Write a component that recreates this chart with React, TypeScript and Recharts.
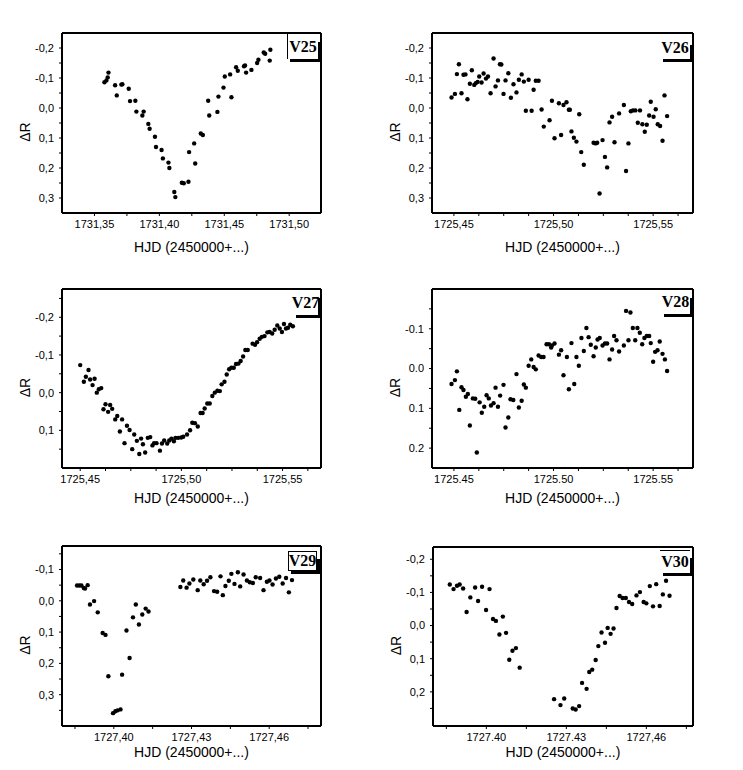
import { ScatterChart, Scatter, XAxis, YAxis } from "recharts";

const FONT = '"Liberation Sans", Arial, sans-serif';
const SERIF = '"Liberation Serif", "Times New Roman", serif';

type Pt = [number, number];

// HJD (1725/1727/1731 + fraction), delta R
const V25: Pt[] = [
  [1731.3577, -0.086], [1731.3592, -0.092], [1731.3602, -0.102], [1731.3608, -0.118],
  [1731.3659, -0.076], [1731.3672, -0.042], [1731.3707, -0.078], [1731.3715, -0.079],
  [1731.3764, -0.064], [1731.3774, -0.023], [1731.3815, -0.024], [1731.3823, 0.012],
  [1731.3869, 0.025], [1731.3879, 0.012], [1731.3915, 0.053], [1731.3925, 0.069],
  [1731.3966, 0.096], [1731.3974, 0.13], [1731.4017, 0.14], [1731.4027, 0.168],
  [1731.407, 0.182], [1731.4077, 0.2], [1731.4115, 0.28], [1731.4123, 0.297],
  [1731.4173, 0.249], [1731.4188, 0.251], [1731.4224, 0.246], [1731.4229, 0.147],
  [1731.4268, 0.118], [1731.4276, 0.185], [1731.4319, 0.085], [1731.4335, 0.09],
  [1731.4376, -0.024], [1731.4384, 0.025], [1731.4447, 0.013], [1731.4455, -0.038],
  [1731.4494, -0.068], [1731.4504, -0.105], [1731.4545, -0.112], [1731.4555, -0.036],
  [1731.4591, -0.136], [1731.4604, -0.124], [1731.4652, -0.139], [1731.466, -0.142],
  [1731.4668, -0.118], [1731.4709, -0.127], [1731.4753, -0.15], [1731.4763, -0.161],
  [1731.4804, -0.185], [1731.4815, -0.181], [1731.485, -0.158], [1731.4855, -0.194],
];

const V26: Pt[] = [
  [1725.4488, -0.035], [1725.4505, -0.047], [1725.4515, -0.113], [1725.4525, -0.146],
  [1725.4538, -0.049], [1725.4548, -0.111], [1725.4558, -0.112], [1725.4568, -0.029],
  [1725.458, -0.081], [1725.459, -0.126], [1725.4602, -0.077], [1725.461, -0.083],
  [1725.4619, -0.087], [1725.4627, -0.105], [1725.4639, -0.085], [1725.4649, -0.115],
  [1725.4661, -0.098], [1725.4671, -0.105], [1725.4684, -0.049], [1725.4699, -0.165],
  [1725.4709, -0.072], [1725.4721, -0.092], [1725.4731, -0.146], [1725.4738, -0.145],
  [1725.4749, -0.047], [1725.4759, -0.092], [1725.4773, -0.116], [1725.4786, -0.034],
  [1725.4799, -0.079], [1725.4814, -0.052], [1725.4826, -0.094], [1725.484, -0.112],
  [1725.4851, -0.088], [1725.4861, 0.009], [1725.4875, -0.094], [1725.489, 0.009],
  [1725.49, -0.061], [1725.4911, -0.091], [1725.4925, -0.091], [1725.494, 0.005],
  [1725.4951, 0.062], [1725.498, 0.041], [1725.4992, -0.024], [1725.5005, 0.101],
  [1725.5027, -0.016], [1725.5038, 0.09], [1725.505, -0.01], [1725.5065, -0.019],
  [1725.5077, 0.006], [1725.5082, 0.006], [1725.509, 0.078], [1725.5102, 0.099],
  [1725.5115, 0.112], [1725.5129, 0.021], [1725.5139, 0.147], [1725.5152, 0.189],
  [1725.5201, 0.116], [1725.5211, 0.118], [1725.5219, 0.116], [1725.5231, 0.285],
  [1725.5246, 0.107], [1725.5258, 0.163], [1725.5269, 0.198], [1725.5281, 0.048],
  [1725.5294, 0.029], [1725.5306, 0.114], [1725.5329, 0.018], [1725.5353, -0.01],
  [1725.5364, 0.21], [1725.5376, 0.118], [1725.5388, 0.011], [1725.5399, 0.008],
  [1725.5411, 0.008], [1725.5423, 0.049], [1725.5434, 0.008], [1725.5446, 0.054],
  [1725.5458, 0.079], [1725.5468, 0.056], [1725.548, 0.025], [1725.5488, -0.021],
  [1725.5502, 0.029], [1725.5513, 0.004], [1725.5523, 0.054], [1725.5535, 0.06],
  [1725.5547, 0.109], [1725.5557, -0.042], [1725.557, 0.027],
];

const V27: Pt[] = [
  [1725.45, -0.073], [1725.4518, -0.029], [1725.4528, -0.042], [1725.4541, -0.06],
  [1725.4549, -0.035], [1725.4561, -0.02], [1725.4571, -0.037], [1725.4582, 0.0],
  [1725.4592, -0.009], [1725.4604, -0.012], [1725.4615, 0.044], [1725.4625, 0.031],
  [1725.4638, 0.051], [1725.4648, 0.033], [1725.4658, 0.043], [1725.4673, 0.071],
  [1725.4683, 0.062], [1725.4696, 0.103], [1725.4707, 0.071], [1725.4719, 0.134],
  [1725.4731, 0.088], [1725.4744, 0.099], [1725.4757, 0.15], [1725.4767, 0.111],
  [1725.478, 0.128], [1725.4792, 0.163], [1725.4801, 0.122], [1725.481, 0.137],
  [1725.4821, 0.159], [1725.4834, 0.12], [1725.4846, 0.118], [1725.4857, 0.14],
  [1725.4865, 0.134], [1725.4877, 0.134], [1725.4894, 0.154], [1725.4904, 0.135],
  [1725.4915, 0.127], [1725.493, 0.135], [1725.494, 0.127], [1725.4951, 0.122],
  [1725.4963, 0.129], [1725.4971, 0.12], [1725.4984, 0.12], [1725.4999, 0.119],
  [1725.5009, 0.117], [1725.5028, 0.111], [1725.5043, 0.1], [1725.5054, 0.08],
  [1725.5067, 0.081], [1725.5081, 0.09], [1725.5095, 0.054], [1725.5105, 0.054],
  [1725.5115, 0.042], [1725.5128, 0.029], [1725.514, 0.029], [1725.5153, 0.009],
  [1725.5165, 0.0], [1725.5178, -0.005], [1725.519, -0.004], [1725.5199, -0.022],
  [1725.5213, -0.029], [1725.5224, -0.048], [1725.5236, -0.062], [1725.5247, -0.066],
  [1725.5259, -0.066], [1725.527, -0.076], [1725.5282, -0.077], [1725.5293, -0.084],
  [1725.5305, -0.096], [1725.5316, -0.113], [1725.5328, -0.113], [1725.5352, -0.13],
  [1725.5364, -0.127], [1725.5374, -0.134], [1725.5387, -0.143], [1725.5398, -0.148],
  [1725.5411, -0.15], [1725.5425, -0.16], [1725.5436, -0.161], [1725.5449, -0.157],
  [1725.5461, -0.167], [1725.5474, -0.178], [1725.5486, -0.17], [1725.5497, -0.161],
  [1725.5507, -0.182], [1725.5517, -0.17], [1725.5527, -0.172], [1725.5538, -0.18],
  [1725.5551, -0.176],
];

const V28: Pt[] = [
  [1725.4488, 0.039], [1725.4505, 0.029], [1725.4515, 0.007], [1725.4527, 0.104],
  [1725.4538, 0.047], [1725.4548, 0.054], [1725.456, 0.071], [1725.457, 0.064],
  [1725.458, 0.143], [1725.4595, 0.075], [1725.4607, 0.076], [1725.4615, 0.211],
  [1725.4629, 0.085], [1725.464, 0.111], [1725.4652, 0.096], [1725.4664, 0.067],
  [1725.4675, 0.075], [1725.4686, 0.093], [1725.4699, 0.087], [1725.4709, 0.048],
  [1725.4721, 0.096], [1725.4732, 0.068], [1725.4749, 0.041], [1725.4759, 0.148],
  [1725.4773, 0.123], [1725.4784, 0.077], [1725.4798, 0.079], [1725.4814, 0.014],
  [1725.4826, 0.098], [1725.484, 0.081], [1725.4851, 0.04], [1725.4861, 0.048],
  [1725.4875, -0.007], [1725.4888, -0.023], [1725.49, -0.004], [1725.4911, 0.002],
  [1725.4925, -0.033], [1725.4938, -0.029], [1725.495, -0.029], [1725.4965, -0.061],
  [1725.4977, -0.061], [1725.4988, -0.053], [1725.4992, -0.058], [1725.5005, -0.063],
  [1725.5027, -0.035], [1725.5038, -0.046], [1725.505, 0.017], [1725.5067, -0.029],
  [1725.5077, 0.052], [1725.509, -0.064], [1725.5104, 0.039], [1725.5115, -0.029],
  [1725.5127, -0.007], [1725.514, -0.077], [1725.5152, -0.044], [1725.5165, -0.102],
  [1725.5176, -0.079], [1725.5187, -0.06], [1725.5201, -0.031], [1725.5212, -0.053],
  [1725.5221, -0.073], [1725.5232, -0.077], [1725.5246, -0.058], [1725.5258, -0.063],
  [1725.5269, -0.063], [1725.5281, -0.023], [1725.5294, -0.048], [1725.5304, -0.082],
  [1725.5316, -0.071], [1725.5329, -0.043], [1725.5353, -0.058], [1725.5364, -0.145],
  [1725.5376, -0.071], [1725.5386, -0.141], [1725.5398, -0.102], [1725.541, -0.071],
  [1725.5421, -0.102], [1725.5433, -0.09], [1725.5445, -0.061], [1725.5456, -0.077],
  [1725.5468, -0.082], [1725.548, -0.082], [1725.5488, -0.064], [1725.55, -0.017],
  [1725.551, -0.042], [1725.5522, -0.046], [1725.5533, -0.068], [1725.5547, -0.037],
  [1725.5559, -0.023], [1725.557, 0.006],
];

const V29: Pt[] = [
  [1727.3858, -0.049], [1727.3867, -0.049], [1727.3875, -0.049], [1727.3884, -0.041],
  [1727.3889, -0.039], [1727.3899, -0.05], [1727.3908, 0.012], [1727.3924, 0.001],
  [1727.3938, 0.037], [1727.3957, 0.103], [1727.3968, 0.109], [1727.3979, 0.241],
  [1727.3997, 0.359], [1727.4006, 0.353], [1727.4015, 0.35], [1727.4026, 0.347],
  [1727.4032, 0.236], [1727.4049, 0.095], [1727.4061, 0.183], [1727.4074, 0.053],
  [1727.4085, 0.012], [1727.4097, 0.076], [1727.411, 0.044], [1727.4123, 0.025],
  [1727.4134, 0.034], [1727.4257, -0.044], [1727.4268, -0.065], [1727.4281, -0.042],
  [1727.4292, -0.055], [1727.4307, -0.068], [1727.4324, -0.034], [1727.4334, -0.065],
  [1727.4347, -0.053], [1727.436, -0.064], [1727.4373, -0.075], [1727.4387, -0.031],
  [1727.4399, -0.029], [1727.4412, -0.078], [1727.4421, -0.018], [1727.4431, -0.047],
  [1727.4444, -0.064], [1727.4454, -0.086], [1727.4466, -0.054], [1727.4479, -0.091],
  [1727.4488, -0.046], [1727.4501, -0.084], [1727.4514, -0.065], [1727.4525, -0.059],
  [1727.4537, -0.057], [1727.4548, -0.075], [1727.4565, -0.073], [1727.4578, -0.034],
  [1727.4591, -0.061], [1727.4601, -0.065], [1727.4613, -0.052], [1727.4626, -0.071],
  [1727.4639, -0.077], [1727.4652, -0.055], [1727.4665, -0.073], [1727.4676, -0.027],
  [1727.4688, -0.066],
];

const V30: Pt[] = [
  [1727.3863, -0.124], [1727.3877, -0.11], [1727.389, -0.12], [1727.39, -0.124],
  [1727.3913, -0.112], [1727.3926, -0.041], [1727.394, -0.085], [1727.3958, -0.115],
  [1727.3969, -0.074], [1727.3984, -0.117], [1727.3999, -0.047], [1727.4012, -0.11],
  [1727.4025, -0.02], [1727.4036, -0.014], [1727.4049, 0.027], [1727.4062, -0.027],
  [1727.4074, 0.022], [1727.4086, 0.103], [1727.4098, 0.076], [1727.4111, 0.068],
  [1727.4125, 0.127], [1727.4254, 0.222], [1727.4278, 0.24], [1727.4292, 0.22],
  [1727.4324, 0.25], [1727.4335, 0.253], [1727.4348, 0.243], [1727.4359, 0.173],
  [1727.4376, 0.191], [1727.4386, 0.14], [1727.4397, 0.133], [1727.441, 0.104],
  [1727.442, 0.062], [1727.4432, 0.021], [1727.4445, 0.052], [1727.4455, 0.007],
  [1727.4466, 0.025], [1727.4477, 0.009], [1727.4488, -0.053], [1727.45, -0.089],
  [1727.4511, -0.083], [1727.4523, -0.083], [1727.4535, -0.071], [1727.4547, -0.065],
  [1727.4563, -0.091], [1727.4576, -0.101], [1727.459, -0.071], [1727.46, -0.067],
  [1727.4613, -0.119], [1727.4625, -0.058], [1727.4637, -0.125], [1727.465, -0.059],
  [1727.4662, -0.094], [1727.4674, -0.135], [1727.4687, -0.09],
];

// ticks ("" = unlabelled minor tick)
const X_TICKS_1731 = [1731.35, 1731.375, 1731.4, 1731.425, 1731.45, 1731.475, 1731.5];
const X_LABELS_1731 = ["1731,35", "", "1731,40", "", "1731,45", "", "1731,50"];
const X_TICKS_1725 = [1725.45, 1725.4625, 1725.475, 1725.4875, 1725.5, 1725.5125, 1725.525, 1725.5375, 1725.55, 1725.5625];
const X_LABELS_1725C = ["1725,45", "", "", "", "1725,50", "", "", "", "1725,55", ""];
const X_LABELS_1725D = ["1725.45", "", "", "", "1725.50", "", "", "", "1725.55", ""];
const X_TICKS_1727 = [1727.385, 1727.4, 1727.415, 1727.43, 1727.445, 1727.46, 1727.475];
const X_LABELS_1727C = ["", "1727,40", "", "1727,43", "", "1727,46", ""];
const X_LABELS_1727M = ["", "1727.40", "", "1727.43", "", "1727,46", ""];

const Y_TICKS_V25 = [-0.2, -0.15, -0.1, -0.05, 0, 0.05, 0.1, 0.15, 0.2, 0.25, 0.3];
const Y_LABELS_V25 = ["-0,2", "", "-0,1", "", "0,0", "", "0,1", "", "0,2", "", "0,3"];
const Y_TICKS_V27 = [-0.25, -0.2, -0.15, -0.1, -0.05, 0, 0.05, 0.1, 0.15];
const Y_LABELS_V27 = ["", "-0,2", "", "-0,1", "", "0,0", "", "0,1", ""];
const Y_TICKS_V28 = [-0.15, -0.1, -0.05, 0, 0.05, 0.1, 0.15, 0.2];
const Y_LABELS_V28 = ["", "-0.1", "", "0.0", "", "0.1", "", "0.2"];
const Y_TICKS_V29 = [-0.15, -0.1, -0.05, 0, 0.05, 0.1, 0.15, 0.2, 0.25, 0.3, 0.35];
const Y_LABELS_V29 = ["", "-0,1", "", "0,0", "", "0,1", "", "0,2", "", "0,3", ""];
const Y_TICKS_V30 = [-0.2, -0.15, -0.1, -0.05, 0, 0.05, 0.1, 0.15, 0.2, 0.25];
const Y_LABELS_V30 = ["-0,2", "", "-0,1", "", "0,0", "", "0,1", "", "0,2", ""];

interface PanelCfg {
  name: string;
  points: Pt[];
  plot: { left: number; top: number; w: number; h: number };
  xDomain: [number, number];
  yDomain: [number, number];
  xTicks: number[];
  xLabels: string[];
  yTicks: number[];
  yLabels: string[];
  titleDy: number;
  box: { x0: number; y0: number; x1: number; y1: number; thin: string[] };
}

const PANELS: PanelCfg[] = [
  {
    name: "V25", points: V25,
    plot: { left: 62, top: 33, w: 259, h: 180 },
    xDomain: [1731.325, 1731.5245], yDomain: [-0.25, 0.35],
    xTicks: X_TICKS_1731, xLabels: X_LABELS_1731, yTicks: Y_TICKS_V25, yLabels: Y_LABELS_V25,
    titleDy: 34, box: { x0: 287, y0: 34, x1: 321, y1: 62, thin: ["left"] },
  },
  {
    name: "V26", points: V26,
    plot: { left: 432, top: 33, w: 261, h: 180 },
    xDomain: [1725.439, 1725.57], yDomain: [-0.25, 0.35],
    xTicks: X_TICKS_1725, xLabels: X_LABELS_1725C, yTicks: Y_TICKS_V25, yLabels: Y_LABELS_V25,
    titleDy: 34, box: { x0: 660, y0: 37, x1: 693, y1: 62, thin: [] },
  },
  {
    name: "V27", points: V27,
    plot: { left: 62, top: 289, w: 259, h: 179 },
    xDomain: [1725.441, 1725.569], yDomain: [-0.275, 0.2],
    xTicks: X_TICKS_1725, xLabels: X_LABELS_1725C, yTicks: Y_TICKS_V27, yLabels: Y_LABELS_V27,
    titleDy: 30, box: { x0: 293, y0: 290, x1: 321, y1: 318, thin: [] },
  },
  {
    name: "V28", points: V28,
    plot: { left: 432, top: 289, w: 261, h: 179 },
    xDomain: [1725.439, 1725.57], yDomain: [-0.2, 0.25],
    xTicks: X_TICKS_1725, xLabels: X_LABELS_1725D, yTicks: Y_TICKS_V28, yLabels: Y_LABELS_V28,
    titleDy: 30, box: { x0: 661, y0: 290, x1: 693, y1: 317, thin: [] },
  },
  {
    name: "V29", points: V29,
    plot: { left: 62, top: 546, w: 259, h: 180 },
    xDomain: [1727.38, 1727.48], yDomain: [-0.175, 0.4],
    xTicks: X_TICKS_1727, xLabels: X_LABELS_1727C, yTicks: Y_TICKS_V29, yLabels: Y_LABELS_V29,
    titleDy: 26, box: { x0: 288, y0: 551, x1: 320, y1: 574, thin: ["left", "top", "right", "bottom"] },
  },
  {
    name: "V30", points: V30,
    plot: { left: 433, top: 547, w: 260, h: 179 },
    xDomain: [1727.38, 1727.4775], yDomain: [-0.237, 0.303],
    xTicks: X_TICKS_1727, xLabels: X_LABELS_1727M, yTicks: Y_TICKS_V30, yLabels: Y_LABELS_V30,
    titleDy: 26, box: { x0: 660, y0: 550, x1: 693, y1: 576, thin: ["top"] },
  },
];

const LEFT = 60;
const TOP = 10;

const lookup = (ticks: number[], labels: string[]) => (v: number) => {
  const i = ticks.findIndex((t) => Math.abs(t - v) < 1e-7);
  return i >= 0 ? labels[i] : "";
};

const Dot = (p: any) => <circle cx={p.cx} cy={p.cy} r={2.2} fill="#000" />;
const NoDot = () => <g />;

const tickStyle = { fontSize: 11, fill: "#000", fontFamily: FONT };
const axisLine = { stroke: "#000", strokeWidth: 2 };
const tickLine = { stroke: "#000", strokeWidth: 1 };

function LabelBox({ cfg }: { cfg: PanelCfg }) {
  const { x0, y0, x1, y1, thin } = cfg.box;
  const ox = cfg.plot.left - LEFT;
  const oy = cfg.plot.top - TOP;
  const bar = 3;
  return (
    <>
      <div
        style={{
          position: "absolute",
          left: x0 - ox,
          top: y0 - oy,
          width: x1 - x0 - bar,
          height: y1 - y0 - bar,
          boxSizing: "border-box",
          borderLeft: thin.includes("left") ? "1px solid #000" : "none",
          borderTop: thin.includes("top") ? "1px solid #000" : "none",
          borderRight: thin.includes("right") ? "1px solid #000" : "none",
          borderBottom: thin.includes("bottom") ? "1px solid #000" : "none",
          background: "#fff",
          display: "flex",
          alignItems: "center",
          justifyContent: "center",
          fontFamily: SERIF,
          fontWeight: "bold",
          fontSize: 16,
          lineHeight: 1,
          color: "#000",
        }}
      >
        {cfg.name}
      </div>
      <div style={{ position: "absolute", left: x0 + 3 - ox, top: y1 - bar - oy, width: x1 - x0 - 3, height: bar, background: "#000" }} />
      <div style={{ position: "absolute", left: x1 - bar - ox, top: y0 + 8 - oy, width: bar, height: y1 - y0 - 8, background: "#000" }} />
    </>
  );
}

function Panel({ cfg }: { cfg: PanelCfg }) {
  const W = cfg.plot.w + LEFT + 10;
  const H = cfg.plot.h + TOP + 50;
  const data = cfg.points.map(([x, y]) => ({ x, y }));
  const xFmt = lookup(cfg.xTicks, cfg.xLabels);
  const yFmt = lookup(cfg.yTicks, cfg.yLabels);

  const xTitle = (p: any) => {
    const vb = p.viewBox ?? p;
    return (
      <text x={vb.x + vb.width / 2} y={vb.y + cfg.titleDy} textAnchor="middle" dominantBaseline="central" fontSize={14} fontFamily={FONT} fill="#000">
        HJD (2450000+...)
      </text>
    );
  };
  const yTitle = (p: any) => {
    const vb = p.viewBox ?? p;
    const x = vb.x + vb.width - 37;
    const y = vb.y + vb.height / 2 + 9;
    return (
      <text x={x} y={y} textAnchor="middle" dominantBaseline="central" fontSize={14} fontFamily={FONT} fill="#000" transform={`rotate(-90 ${x} ${y})`}>
        ΔR
      </text>
    );
  };

  return (
    <div style={{ position: "absolute", left: cfg.plot.left - LEFT, top: cfg.plot.top - TOP, width: W, height: H }}>
      <ScatterChart width={W} height={H} margin={{ top: TOP, right: 10, bottom: 0, left: 0 }}>
        <XAxis
          xAxisId="b" type="number" dataKey="x" domain={cfg.xDomain} allowDataOverflow
          ticks={cfg.xTicks} interval={0} tickFormatter={xFmt} height={50}
          tickSize={3} tickMargin={4} axisLine={axisLine} tickLine={tickLine} tick={tickStyle}
          label={xTitle}
        />
        <XAxis
          xAxisId="t" orientation="top" mirror type="number" dataKey="x" domain={cfg.xDomain} allowDataOverflow
          ticks={cfg.xTicks} interval={0} tick={false} height={20}
          tickSize={3} axisLine={axisLine} tickLine={tickLine}
        />
        <YAxis
          yAxisId="l" type="number" dataKey="y" domain={cfg.yDomain} reversed allowDataOverflow
          ticks={cfg.yTicks} interval={0} tickFormatter={yFmt} width={LEFT}
          tickSize={3} tickMargin={5} axisLine={axisLine} tickLine={tickLine} tick={tickStyle}
          label={yTitle}
        />
        <YAxis
          yAxisId="r" orientation="right" mirror type="number" dataKey="y" domain={cfg.yDomain} reversed allowDataOverflow
          ticks={cfg.yTicks} interval={0} tick={false} width={20}
          tickSize={3} axisLine={axisLine} tickLine={tickLine}
        />
        <Scatter xAxisId="b" yAxisId="l" data={data} shape={Dot} isAnimationActive={false} />
        <Scatter xAxisId="t" yAxisId="r" data={data} shape={NoDot} isAnimationActive={false} />
      </ScatterChart>
      <LabelBox cfg={cfg} />
    </div>
  );
}

export default function App() {
  return (
    <div style={{ position: "absolute", left: 0, top: 0, width: 743, height: 770, background: "#fff", overflow: "hidden" }}>
      {PANELS.map((p) => (
        <Panel key={p.name} cfg={p} />
      ))}
    </div>
  );
}
